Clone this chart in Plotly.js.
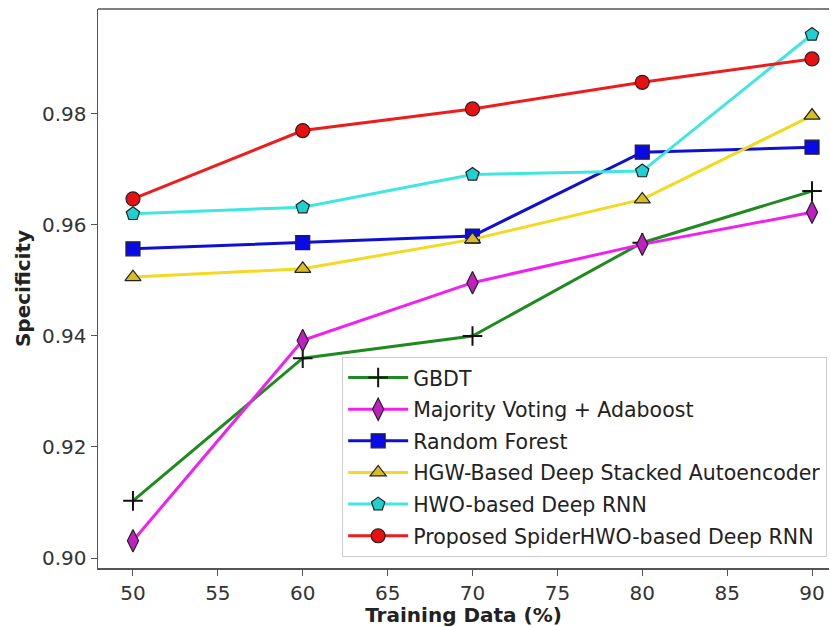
<!DOCTYPE html>
<html>
<head>
<meta charset="utf-8">
<script src="https://cdn.plot.ly/plotly-3.0.1.min.js"></script>
<style>html,body{margin:0;padding:0;overflow:hidden;background:#fff}</style>
</head>
<body>
<div id="chart" style="width:831px;height:627px"></div>
<script>
const trainingData = [50, 60, 70, 80, 90];
const seriesNames = [
  "GBDT",
  "Majority Voting + Adaboost",
  "Random Forest",
  "HGW-Based Deep Stacked Autoencoder",
  "HWO-based Deep RNN",
  "Proposed SpiderHWO-based Deep RNN"
];
const gbdt      = [0.9103, 0.9360, 0.9400, 0.9568, 0.9661];
const majority  = [0.9031, 0.9392, 0.9496, 0.9565, 0.9623];
const randomF   = [0.9557, 0.9568, 0.9580, 0.9731, 0.9740];
const hgw       = [0.9506, 0.9521, 0.9574, 0.9646, 0.9797];
const hwo       = [0.9620, 0.9632, 0.9691, 0.9697, 0.9943];
const proposed  = [0.9647, 0.9770, 0.9809, 0.9857, 0.9899];
const yTicks = [0.90, 0.92, 0.94, 0.96, 0.98];
const xTicks = [50, 55, 60, 65, 70, 75, 80, 85, 90];

const values = [gbdt, majority, randomF, hgw, hwo, proposed];
const lineColors = ["#1f8a1f", "#f020f0", "#1010d0", "#f2da20", "#40e6e0", "#ee1c1c"];
const markerFill = ["#000000", "#c020c0", "#0a0ae8", "#d8bc20", "#20d0d0", "#e81010"];
const symbols = ["cross-thin", "diamond-tall", "square", "triangle-up", "pentagon", "circle"];
const sizes = [14, 16, 14, 14, 14, 14];

const traces = values.map((v, i) => ({
  x: trainingData,
  y: v,
  name: seriesNames[i],
  type: "scatter",
  mode: "lines+markers",
  legendgroup: "g" + i,
  line: {color: lineColors[i], width: 3},
  marker: {
    symbol: symbols[i],
    size: sizes[i],
    color: markerFill[i],
    line: {color: i === 0 ? "#111" : "#222", width: i === 0 ? 2 : 1.2}
  }
}));

const layout = {
  width: 831,
  height: 627,
  margin: {l: 98, r: 2, t: 9, b: 59},
  paper_bgcolor: "#fff",
  plot_bgcolor: "#fff",
  font: {family: "DejaVu Sans", size: 20, color: "#333"},
  xaxis: {
    range: [47.94, 91.0],
    tickvals: xTicks,
    ticktext: xTicks.map(String),
    showgrid: false, zeroline: false,
    showline: true, linecolor: "#555", linewidth: 1.5,
    ticks: "outside", ticklen: 6, tickcolor: "#555",
    tickfont: {size: 20, color: "#333"},
    title: {text: "<b>Training Data (%)</b>", font: {size: 20, color: "#222"}, standoff: 6}
  },
  yaxis: {
    range: [0.8982, 0.9989],
    tickvals: yTicks,
    ticktext: yTicks.map(v => v.toFixed(2)),
    showgrid: false, zeroline: false,
    showline: true, linecolor: "#555", linewidth: 1.5,
    ticks: "outside", ticklen: 6, tickcolor: "#555",
    tickfont: {size: 20, color: "#333"},
    title: {text: "<b>Specificity</b>", font: {size: 20, color: "#222"}, standoff: 6}
  },
  shapes: [{
    type: "line", xref: "paper", yref: "paper",
    x0: 0, x1: 1, y0: 1, y1: 1,
    line: {color: "#555", width: 1.5}
  }],
  legend: {
    x: 0.334, y: 0.378, xanchor: "left", yanchor: "top",
    bgcolor: "rgba(255,255,255,0.9)",
    bordercolor: "#ccc", borderwidth: 1,
    font: {size: 20.5, color: "#222"},
    itemwidth: 60,
    traceorder: "grouped",
    tracegroupgap: 2
  },
  showlegend: true
};

Plotly.newPlot("chart", traces, layout, {displayModeBar: false, staticPlot: true});
</script>
</body>
</html>
